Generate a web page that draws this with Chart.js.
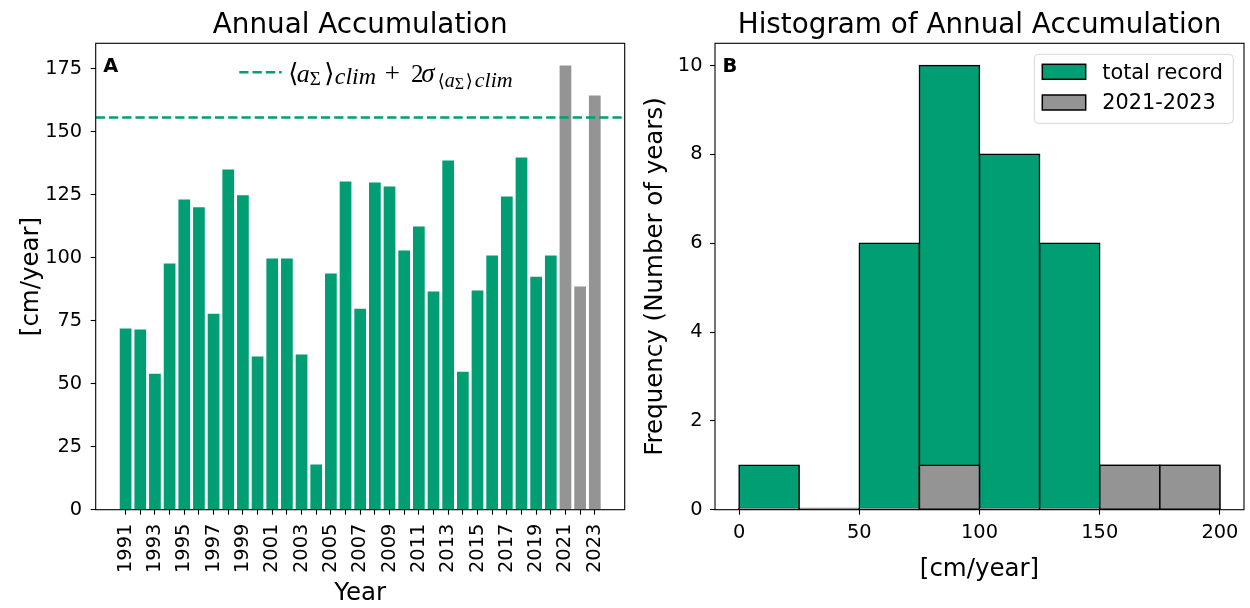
<!DOCTYPE html>
<html>
<head>
<meta charset="utf-8">
<script src="https://cdn.jsdelivr.net/npm/chart.js@4.4.0/dist/chart.umd.min.js"></script>
<style>
  html, body { margin: 0; padding: 0; background: #fff; }
  #wrap { position: relative; width: 1250px; height: 608px; }
  canvas { position: absolute; top: 0; }
  #accum { left: 0; }
  #hist { left: 640px; }
</style>
</head>
<body>
<div id="wrap">
  <canvas id="accum" width="640" height="608"></canvas>
  <canvas id="hist" width="610" height="608"></canvas>
</div>
<script>
// ---- data -------------------------------------------------------------
const years = [1991, 1992, 1993, 1994, 1995, 1996, 1997, 1998, 1999, 2000,
               2001, 2002, 2003, 2004, 2005, 2006, 2007, 2008, 2009, 2010,
               2011, 2012, 2013, 2014, 2015, 2016, 2017, 2018, 2019, 2020,
               2021, 2022, 2023];
// annual accumulation, cm/year
const accumulation = [71.9, 71.5, 54.0, 97.7, 123.1, 120.0, 77.8, 135.0, 124.8, 60.8,
                      99.7, 99.7, 61.6, 17.9, 93.7, 130.3, 79.8, 129.9, 128.3, 102.9,
                      112.4, 86.6, 138.6, 54.8, 87.0, 100.9, 124.3, 139.8, 92.5, 100.9,
                      176.3, 88.6, 164.4];
const recentFrom = 2021;          // first year of the highlighted period
const climThreshold = 155.7;      // <a>_clim + 2 sigma
const accumTicks = [0, 25, 50, 75, 100, 125, 150, 175];

// histogram of annual accumulation (25 cm/year bins)
const binEdges = [0, 25, 50, 75, 100, 125, 150, 175, 200];
const countsTotal = [1, 0, 6, 10, 8, 6, 1, 1];
const countsRecent = [0, 0, 0, 1, 0, 0, 1, 1];
const freqTicks = [0, 2, 4, 6, 8, 10];
const valueTicks = [0, 50, 100, 150, 200];

// ---- style ------------------------------------------------------------
const GREEN = '#029e73';
const GREY = '#949494';
const FONT = 'DejaVu Sans';
const TICK_SIZE = 19.4;
const LABEL_SIZE = 24.5;

Chart.defaults.font.family = FONT;
Chart.defaults.color = '#000';

// axes box drawn on all four sides
const frame = {
  id: 'frame',
  afterDatasetsDraw(chart) {
    const { ctx, chartArea: a } = chart;
    ctx.save();
    ctx.strokeStyle = '#000';
    ctx.lineWidth = 1.1;
    ctx.strokeRect(a.left, a.top, a.right - a.left, a.bottom - a.top);
    ctx.restore();
  }
};

// panel title and bold panel letter
const decor = {
  id: 'decor',
  afterDraw(chart, args, opts) {
    const { ctx, chartArea: a } = chart;
    ctx.save();
    ctx.fillStyle = '#000';
    ctx.textBaseline = 'alphabetic';
    ctx.textAlign = 'center';
    ctx.font = `27.8px "${FONT}"`;
    ctx.fillText(opts.title, (a.left + a.right) / 2, a.top - 10);
    ctx.textAlign = 'left';
    ctx.font = `bold 19.4px "${FONT}"`;
    ctx.fillText(opts.tag, a.left + 7.6, a.top + 28.4);
    ctx.restore();
  }
};

function ticksFrom(list) {
  return scale => { scale.ticks = list.map(v => ({ value: v })); };
}

function axisGrid() {
  return { display: true, drawOnChartArea: false, drawTicks: true,
           tickLength: 5, tickWidth: 1.1, tickColor: '#000', offset: false };
}

// ---- panel A: annual accumulation --------------------------------------
const xMinA = years[0] - 0.4 - 0.05 * (years[years.length - 1] - years[0] + 0.8);
const xMaxA = years[years.length - 1] + 0.4 + 0.05 * (years[years.length - 1] - years[0] + 0.8);
const yMaxA = Math.max(...accumulation) * 1.05;

// legend for the dashed threshold line, set as math text
// (at = horizontal offset of each piece from the start of the text)
const legendMath = [
  { t: '\u27E8', font: '26px "DejaVu Serif"', at: 0, dy: 0 },
  { t: 'a', font: 'italic 26px "Liberation Serif"', at: 8.4, dy: 0 },
  { t: '\u03A3', font: '19px "Liberation Serif"', at: 21.5, dy: 3.5 },
  { t: '\u27E9', font: '26px "DejaVu Serif"', at: 36, dy: 0 },
  { t: 'clim', font: 'italic 24px "Liberation Serif"', at: 46.5, dy: 2 },
  { t: '+', font: '27px "Liberation Serif"', at: 96.5, dy: 0 },
  { t: '2', font: '25px "Liberation Serif"', at: 122.8, dy: 0 },
  { t: '\u03C3', font: 'italic 27px "Liberation Serif"', at: 133, dy: 0 },
  { t: '\u27E8', font: '18px "DejaVu Serif"', at: 149.5, dy: 5 },
  { t: 'a', font: 'italic 20px "Liberation Serif"', at: 156.5, dy: 5 },
  { t: '\u03A3', font: '16px "Liberation Serif"', at: 166.5, dy: 7 },
  { t: '\u27E9', font: '18px "DejaVu Serif"', at: 177.5, dy: 5 },
  { t: 'clim', font: 'italic 22px "Liberation Serif"', at: 186.5, dy: 5 }
];

const mathLegend = {
  id: 'mathLegend',
  afterDraw(chart) {
    const { ctx, chartArea: a } = chart;
    const x0 = a.left + 143.6, y0 = a.top + 29;
    ctx.save();
    ctx.strokeStyle = GREEN;
    ctx.lineWidth = 2.5;
    ctx.setLineDash([9.25, 4]);
    ctx.beginPath();
    ctx.moveTo(x0, y0);
    ctx.lineTo(x0 + 42.4, y0);
    ctx.stroke();
    ctx.setLineDash([]);
    ctx.fillStyle = '#000';
    ctx.textAlign = 'left';
    ctx.textBaseline = 'alphabetic';
    const base = a.top + 38.2;
    const start = x0 + 49;
    for (const p of legendMath) {
      ctx.font = p.font;
      ctx.fillText(p.t, start + p.at, base + p.dy);
    }
    ctx.restore();
  }
};

new Chart(document.getElementById('accum'), {
  data: {
    datasets: [
      {
        type: 'line',
        data: [{ x: xMinA, y: climThreshold }, { x: xMaxA, y: climThreshold }],
        borderColor: GREEN,
        borderWidth: 2.5,
        borderDash: [9.25, 4],
        pointRadius: 0,
        order: 0
      },
      {
        type: 'bar',
        data: years.map((yr, i) => ({ x: yr, y: accumulation[i] })),
        backgroundColor: years.map(yr => (yr >= recentFrom ? GREY : GREEN)),
        borderWidth: 0,
        barPercentage: 0.8,
        categoryPercentage: 1,
        inflateAmount: 0,
        order: 1
      }
    ]
  },
  options: {
    responsive: false,
    animation: false,
    devicePixelRatio: 1,
    layout: { padding: { left: 0, top: 43.3, right: 15.3, bottom: 0 } },
    plugins: {
      legend: { display: false },
      tooltip: { enabled: false },
      decor: { title: 'Annual Accumulation', tag: 'A' }
    },
    scales: {
      x: {
        type: 'linear',
        min: xMinA,
        max: xMaxA,
        offset: false,
        afterBuildTicks: ticksFrom(years),
        afterFit: s => { s.height = 98.3; },
        grid: axisGrid(),
        border: { display: false },
        ticks: {
          autoSkip: false,
          maxRotation: 90,
          minRotation: 90,
          padding: 9,
          font: { size: TICK_SIZE },
          callback: v => ((v - years[0]) % 2 === 0 ? String(v) : '')
        },
        title: { display: true, text: 'Year', font: { size: LABEL_SIZE }, padding: { top: 0, bottom: 0 } }
      },
      y: {
        type: 'linear',
        min: 0,
        max: yMaxA,
        afterBuildTicks: ticksFrom(accumTicks),
        afterFit: s => { s.width = 95.7; },
        grid: axisGrid(),
        border: { display: false },
        ticks: { padding: 8.5, font: { size: TICK_SIZE }, callback: v => String(v) },
        title: { display: true, text: '[cm/year]', font: { size: LABEL_SIZE }, padding: { top: 17, bottom: 0 } }
      }
    }
  },
  plugins: [frame, decor, mathLegend]
});

// ---- panel B: histogram -------------------------------------------------
const binCenters = binEdges.slice(0, -1).map((e, i) => (e + binEdges[i + 1]) / 2);

const histLegend = {
  id: 'histLegend',
  afterDraw(chart) {
    const { ctx, chartArea: a } = chart;
    const w = 199, h = 69;
    const bx = a.right - 10.7 - w, by = a.top + 11;
    ctx.save();
    ctx.beginPath();
    ctx.roundRect(bx, by, w, h, 4);
    ctx.fillStyle = 'rgba(255,255,255,0.8)';
    ctx.fill();
    ctx.strokeStyle = '#d6d6d6';
    ctx.lineWidth = 1;
    ctx.stroke();
    const items = [
      { label: 'total record', color: GREEN },
      { label: '2021-2023', color: GREY }
    ];
    ctx.font = `20.8px "${FONT}"`;
    ctx.textAlign = 'left';
    ctx.textBaseline = 'alphabetic';
    items.forEach((it, i) => {
      const ry = by + 10 + i * 30.7;
      ctx.fillStyle = it.color;
      ctx.fillRect(bx + 8, ry, 43.4, 15);
      ctx.strokeStyle = '#000';
      ctx.lineWidth = 1.5;
      ctx.strokeRect(bx + 8, ry, 43.4, 15);
      ctx.fillStyle = '#000';
      ctx.fillText(it.label, bx + 68, ry + 14.4);
    });
    ctx.restore();
  }
};

const histBar = {
  type: 'bar',
  borderColor: '#000',
  borderWidth: 1.5,
  borderSkipped: false,
  grouped: false,
  barPercentage: 1,
  categoryPercentage: 1,
  minBarLength: 1.2,
  inflateAmount: 0.75
};

new Chart(document.getElementById('hist'), {
  data: {
    datasets: [
      Object.assign({}, histBar, {
        label: 'total record',
        data: binCenters.map((c, i) => ({ x: c, y: countsTotal[i] })),
        backgroundColor: GREEN,
        order: 2
      }),
      Object.assign({}, histBar, {
        label: '2021-2023',
        data: binCenters.map((c, i) => ({ x: c, y: countsRecent[i] })),
        backgroundColor: GREY,
        order: 1
      })
    ]
  },
  options: {
    responsive: false,
    animation: false,
    devicePixelRatio: 1,
    layout: { padding: { left: 0, top: 43.3, right: 6, bottom: 0 } },
    plugins: {
      legend: { display: false },
      tooltip: { enabled: false },
      decor: { title: 'Histogram of Annual Accumulation', tag: 'B' }
    },
    scales: {
      x: {
        type: 'linear',
        min: -10,
        max: 210,
        offset: false,
        afterBuildTicks: ticksFrom(valueTicks),
        afterFit: s => { s.height = 98.3; },
        grid: axisGrid(),
        border: { display: false },
        ticks: { autoSkip: false, maxRotation: 0, padding: 7, font: { size: TICK_SIZE }, callback: v => String(v) },
        title: { display: true, text: '[cm/year]', font: { size: LABEL_SIZE }, padding: { top: 0, bottom: 24 } }
      },
      y: {
        type: 'linear',
        min: 0,
        max: 10.5,
        afterBuildTicks: ticksFrom(freqTicks),
        afterFit: s => { s.width = 75; },
        grid: axisGrid(),
        border: { display: false },
        ticks: { padding: 7.5, font: { size: TICK_SIZE }, callback: v => String(v) },
        title: { display: true, text: 'Frequency (Number of years)', font: { size: LABEL_SIZE }, padding: { top: 1, bottom: 0 } }
      }
    }
  },
  plugins: [frame, decor, histLegend]
});
</script>
</body>
</html>
